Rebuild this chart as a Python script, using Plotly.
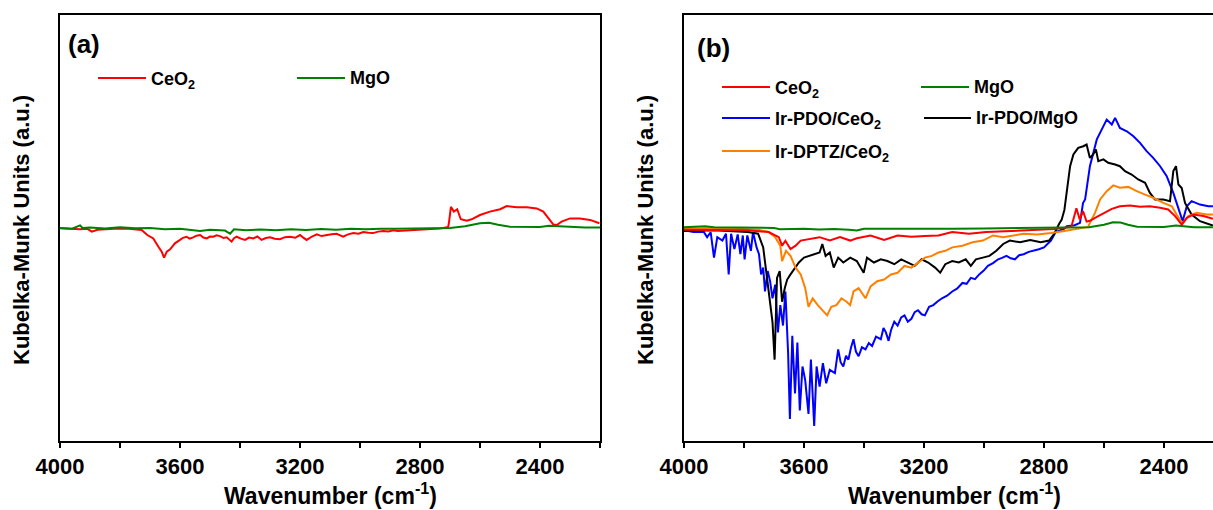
import plotly.graph_objects as go

W, H = 1213, 510

# ---------------- Panel (a) data ----------------
a_ceo2_wn = [4000, 3970, 3933, 3910, 3894, 3875, 3856, 3820, 3778, 3750, 3728, 3709, 3689, 3672, 3661, 3653,
             3644, 3633, 3617, 3600, 3590, 3578, 3568, 3556, 3545, 3533, 3522, 3511, 3500, 3489, 3478, 3467,
             3455, 3444, 3436, 3428, 3420, 3411, 3397, 3383, 3370, 3356, 3342, 3328, 3314, 3300, 3284, 3267,
             3250, 3233, 3216, 3200, 3189, 3178, 3160, 3144, 3128, 3111, 3095, 3078, 3067, 3056, 3040, 3022,
             3005, 2989, 2972, 2956, 2940, 2922, 2905, 2889, 2875, 2860, 2845, 2833, 2815, 2800, 2790, 2778,
             2765, 2750, 2735, 2722, 2706, 2703, 2697, 2687, 2676, 2664, 2644, 2628, 2600, 2567, 2533, 2511,
             2478, 2444, 2411, 2389, 2372, 2356, 2344, 2328, 2300, 2267, 2233, 2202]
a_ceo2_km = [-0.001, -0.004, -0.006, -0.003, -0.017, -0.008, -0.006, -0.003, -0.002, -0.004, -0.009, -0.033, -0.049, -0.088, -0.111, -0.139,
             -0.111, -0.100, -0.072, -0.056, -0.046, -0.041, -0.050, -0.044, -0.036, -0.033, -0.045, -0.049, -0.040, -0.041, -0.034, -0.038,
             -0.047, -0.044, -0.052, -0.064, -0.048, -0.041, -0.050, -0.056, -0.045, -0.049, -0.040, -0.056, -0.047, -0.044, -0.050, -0.053,
             -0.043, -0.041, -0.046, -0.033, -0.045, -0.056, -0.040, -0.030, -0.038, -0.033, -0.029, -0.027, -0.035, -0.041, -0.030, -0.024,
             -0.027, -0.019, -0.022, -0.024, -0.017, -0.014, -0.016, -0.011, -0.014, -0.013, -0.009, -0.008, -0.010, -0.007, -0.005, -0.005,
             -0.004, -0.003, -0.002, 0.000, 0.005, 0.030, 0.099, 0.077, 0.088, 0.041, 0.034, 0.041, 0.061, 0.077, 0.088, 0.103,
             0.097, 0.097, 0.092, 0.077, 0.045, 0.017, 0.014, 0.030, 0.045, 0.045, 0.038, 0.022]

a_mgo_wn = [4000, 3960, 3933, 3925, 3900, 3850, 3800, 3750, 3700, 3650, 3600, 3560, 3533, 3500, 3450, 3433,
            3420, 3380, 3330, 3280, 3230, 3180, 3130, 3080, 3030, 2980, 2930, 2880, 2830, 2780, 2730, 2700,
            2650, 2600, 2570, 2540, 2500, 2450, 2400, 2370, 2340, 2300, 2250, 2200]
a_mgo_km = [0.000, -0.003, 0.012, 0.000, 0.002, -0.002, 0.003, -0.001, 0.000, -0.006, -0.004, -0.010, -0.014, -0.008, -0.012, -0.027,
            -0.006, -0.010, -0.007, -0.011, -0.006, -0.009, -0.005, -0.008, -0.004, -0.006, -0.003, -0.004, -0.002, 0.000, 0.001, 0.000,
            0.008, 0.022, 0.025, 0.015, 0.006, 0.004, 0.005, 0.010, 0.008, 0.003, 0.002, 0.002]

# ---------------- Panel (b) data ----------------
b_ceo2_wn = [4000, 3900, 3787, 3718, 3684, 3673, 3662, 3645, 3628, 3611, 3582, 3548, 3514, 3480, 3446, 3424,
             3378, 3333, 3288, 3242, 3197, 3152, 3106, 3050, 2993, 2936, 2880, 2823, 2766, 2709, 2692, 2681,
             2670, 2658, 2645, 2630, 2602, 2574, 2547, 2513, 2480, 2447, 2413, 2386, 2363, 2341, 2324, 2302,
             2269, 2237]
b_ceo2_km = [-0.008, -0.009, -0.011, -0.019, -0.043, -0.083, -0.060, -0.099, -0.083, -0.059, -0.051, -0.043, -0.059, -0.043, -0.059, -0.048,
             -0.035, -0.056, -0.035, -0.041, -0.038, -0.035, -0.019, -0.027, -0.019, -0.016, -0.011, -0.008, -0.005, 0.005, 0.093, 0.040,
             0.079, 0.030, 0.035, 0.048, 0.071, 0.090, 0.102, 0.106, 0.100, 0.102, 0.095, 0.087, 0.056, 0.016, 0.048, 0.063,
             0.056, 0.043]

b_mgo_wn = [4000, 3930, 3900, 3800, 3700, 3680, 3650, 3600, 3550, 3500, 3450, 3424, 3400, 3300, 3200, 3100,
            3000, 2900, 2800, 2700, 2650, 2600, 2570, 2545, 2520, 2490, 2450, 2400, 2360, 2340, 2300, 2237]
b_mgo_km = [0.003, 0.008, 0.004, 0.002, 0.000, -0.006, -0.004, -0.003, -0.007, -0.005, -0.008, -0.012, -0.004, -0.005, -0.003, -0.004,
            -0.002, 0.000, 0.001, 0.002, 0.004, 0.015, 0.027, 0.026, 0.015, 0.006, 0.004, 0.005, 0.012, 0.010, 0.004, 0.003]

b_irpdo_ceo2_wn = [4000, 3968, 3934, 3923, 3911, 3900, 3889, 3872, 3860, 3851, 3843, 3832, 3821, 3812, 3804, 3798,
                   3789, 3777, 3770, 3758, 3750, 3743, 3736, 3730, 3721, 3713, 3705, 3696, 3687, 3679, 3670, 3662,
                   3653, 3647, 3639, 3630, 3622, 3614, 3605, 3596, 3585, 3577, 3566, 3558, 3548, 3537, 3526, 3514,
                   3497, 3490, 3486, 3478, 3469, 3460, 3452, 3443, 3435, 3427, 3418, 3407, 3395, 3384, 3373, 3360,
                   3344, 3335, 3327, 3318, 3310, 3299, 3288, 3276, 3265, 3254, 3242, 3231, 3220, 3208, 3197, 3183,
                   3169, 3155, 3140, 3123, 3106, 3090, 3072, 3058, 3044, 3030, 3016, 3001, 2987, 2970, 2953, 2940,
                   2925, 2911, 2897, 2883, 2868, 2851, 2834, 2817, 2800, 2788, 2777, 2761, 2732,
                   2724, 2698, 2680, 2670, 2663, 2647, 2624, 2602, 2591, 2574, 2563, 2547, 2524, 2502, 2480, 2458,
                   2436, 2413, 2391, 2369, 2352, 2338, 2324, 2308, 2280, 2252, 2237]
b_irpdo_ceo2_km = [-0.011, -0.019, -0.019, -0.043, -0.020, -0.139, -0.043, -0.059, -0.027, -0.218, -0.027, -0.099, -0.030, -0.123, -0.035, -0.147,
                   -0.035, -0.107, -0.019, -0.091, -0.123, -0.218, -0.186, -0.298, -0.202, -0.250, -0.330, -0.266, -0.490, -0.362, -0.458, -0.298,
                   -0.586, -0.897, -0.506, -0.777, -0.538, -0.857, -0.650, -0.714, -0.873, -0.618, -0.929, -0.650, -0.745, -0.634, -0.729, -0.666,
                   -0.681, -0.600, -0.570, -0.630, -0.650, -0.600, -0.618, -0.560, -0.522, -0.580, -0.602, -0.560, -0.570, -0.540, -0.554, -0.510,
                   -0.522, -0.470, -0.490, -0.530, -0.480, -0.440, -0.458, -0.420, -0.410, -0.440, -0.426, -0.395, -0.386, -0.405, -0.410, -0.370,
                   -0.362, -0.345, -0.330, -0.318, -0.298, -0.285, -0.258, -0.262, -0.234, -0.240, -0.218, -0.200, -0.178, -0.165, -0.147, -0.140,
                   -0.131, -0.142, -0.147, -0.128, -0.123, -0.112, -0.107, -0.100, -0.091, -0.075, -0.059, -0.019, -0.003,
                   0.009, 0.013, 0.024, 0.117, 0.134, 0.290, 0.416, 0.478, 0.509, 0.486, 0.517, 0.470, 0.454, 0.431, 0.400, 0.361,
                   0.329, 0.290, 0.243, 0.165, 0.087, 0.032, 0.102, 0.126, 0.110, 0.102, 0.102]

b_irpdo_mgo_wn = [4000, 3900, 3787, 3753, 3736, 3724, 3713, 3705, 3698, 3690, 3681, 3673, 3664, 3656, 3645, 3628,
                  3617, 3600, 3582, 3565, 3548, 3539, 3528, 3514, 3501, 3486, 3469, 3446, 3424, 3401, 3390, 3367,
                  3344, 3322, 3299, 3276, 3254, 3231, 3208, 3186, 3163, 3146, 3129, 3106, 3084, 3061, 3044, 3027,
                  3004, 2982, 2959, 2936, 2914, 2880, 2846, 2811, 2783, 2766, 2749, 2741, 2732, 2724, 2713, 2702,
                  2686, 2669, 2658, 2647, 2636, 2627, 2619, 2602, 2586, 2563, 2547, 2530, 2508, 2486, 2463, 2447,
                  2430, 2402, 2380, 2369, 2360, 2352, 2341, 2330, 2308, 2280, 2237]
b_irpdo_mgo_km = [-0.014, -0.011, -0.019, -0.027, -0.091, -0.234, -0.346, -0.442, -0.618, -0.234, -0.202, -0.346, -0.282, -0.242, -0.218, -0.186,
                  -0.162, -0.139, -0.131, -0.123, -0.115, -0.075, -0.131, -0.115, -0.186, -0.139, -0.162, -0.139, -0.155, -0.210, -0.139, -0.162,
                  -0.147, -0.155, -0.170, -0.147, -0.162, -0.178, -0.147, -0.162, -0.186, -0.210, -0.170, -0.155, -0.162, -0.147, -0.178, -0.147,
                  -0.139, -0.131, -0.107, -0.075, -0.059, -0.067, -0.056, -0.067, -0.059, -0.027, 0.021, 0.040, 0.085, 0.165, 0.290, 0.345,
                  0.376, 0.384, 0.392, 0.329, 0.345, 0.369, 0.314, 0.322, 0.306, 0.298, 0.290, 0.267, 0.251, 0.228, 0.212, 0.165,
                  0.134, 0.134, 0.126, 0.267, 0.290, 0.204, 0.188, 0.118, 0.063, 0.032, 0.012]

b_irdptz_ceo2_wn = [4000, 3877, 3753, 3718, 3696, 3679, 3673, 3660, 3645, 3628, 3611, 3596, 3585, 3571, 3554, 3537,
                    3523, 3509, 3492, 3475, 3458, 3446, 3435, 3418, 3395, 3378, 3356, 3333, 3310, 3288, 3265, 3242,
                    3220, 3197, 3174, 3152, 3129, 3106, 3072, 3038, 3004, 2970, 2936, 2902, 2868, 2823, 2777, 2732,
                    2687, 2653, 2647, 2630, 2613, 2591, 2569, 2547, 2519, 2491, 2463, 2436, 2402, 2374, 2358, 2338,
                    2319, 2291, 2258, 2237]
b_irdptz_ceo2_km = [-0.003, 0.000, -0.008, -0.019, -0.043, -0.083, -0.155, -0.107, -0.131, -0.186, -0.218, -0.282, -0.370, -0.330, -0.362, -0.386,
                    -0.410, -0.370, -0.362, -0.330, -0.346, -0.362, -0.298, -0.282, -0.330, -0.274, -0.250, -0.242, -0.218, -0.210, -0.178, -0.186,
                    -0.162, -0.139, -0.131, -0.115, -0.107, -0.091, -0.083, -0.067, -0.059, -0.035, -0.043, -0.035, -0.027, -0.030, -0.024, -0.014,
                    -0.003, 0.005, 0.024, 0.071, 0.134, 0.173, 0.200, 0.189, 0.193, 0.173, 0.157, 0.142, 0.118, 0.102, 0.063, 0.021,
                    0.056, 0.071, 0.063, 0.063]

major_ticks = [4000, 3600, 3200, 2800, 2400]
major_text = ["4000", "3600", "3200", "2800", "2400"]
minor_ticks = [3800, 3400, 3000, 2600, 2200]

RED, GREEN, BLUE, BLACK, ORANGE = "#FF0000", "#008000", "#0000FF", "#000000", "#FF8000"
FONT = "Liberation Sans, Arial, sans-serif"

fig = go.Figure()

def add(x, y, color, xa, ya):
    fig.add_trace(go.Scatter(x=x, y=y, mode="lines", line=dict(color=color, width=2),
                             xaxis=xa, yaxis=ya, showlegend=False, hoverinfo="skip"))

add(a_ceo2_wn, a_ceo2_km, RED, "x", "y")
add(a_mgo_wn, a_mgo_km, GREEN, "x", "y")
add(b_irpdo_ceo2_wn, b_irpdo_ceo2_km, BLUE, "x2", "y2")
add(b_irpdo_mgo_wn, b_irpdo_mgo_km, BLACK, "x2", "y2")
add(b_irdptz_ceo2_wn, b_irdptz_ceo2_km, ORANGE, "x2", "y2")
add(b_ceo2_wn, b_ceo2_km, RED, "x2", "y2")
add(b_mgo_wn, b_mgo_km, GREEN, "x2", "y2")

def px(xp):
    return xp / W

def py(yp):
    return 1 - yp / H

y_dom = [py(441), py(15)]
xaxis_common = dict(tickmode="array", tickvals=major_ticks, ticktext=major_text, ticks="outside", ticklen=5,
                    tickwidth=1.5, tickcolor="black", showline=True, linecolor="black", linewidth=1.8,
                    showgrid=False, zeroline=False, automargin=False,
                    minor=dict(tickmode="array", tickvals=minor_ticks, ticks="outside", ticklen=5,
                               tickwidth=1.5, tickcolor="black", showgrid=False),
                    tickfont=dict(family=FONT, size=22, color="black", weight="bold"))
yaxis_common = dict(range=[-1, 1], showticklabels=False, ticks="", showline=True, linecolor="black",
                    linewidth=1.8, showgrid=False, zeroline=False, automargin=False, domain=y_dom)
fig.update_layout(
    width=W, height=H, margin=dict(l=0, r=0, t=0, b=0, pad=0, autoexpand=False),
    paper_bgcolor="white", plot_bgcolor="white", showlegend=False,
    xaxis=dict(domain=[px(60), px(600)], range=[4000, 2200], mirror=True, anchor="y", **xaxis_common),
    yaxis=dict(mirror=True, anchor="x", **yaxis_common),
    xaxis2=dict(domain=[px(684), 1], range=[4000, 2236.7], mirror=True, anchor="y2", **xaxis_common),
    yaxis2=dict(mirror=False, anchor="x2", **yaxis_common),
)

ann = []
def text(x, y, s, size, xanchor="left", angle=0):
    ann.append(dict(x=px(x), y=py(y), xref="paper", yref="paper", text=s, showarrow=False,
                    xanchor=xanchor, yanchor="middle", textangle=angle,
                    font=dict(family=FONT, size=size, color="black", weight="bold")))

shapes = []
def legline(x0, x1, y, color):
    shapes.append(dict(type="line", xref="paper", yref="paper", x0=px(x0), x1=px(x1), y0=py(y), y1=py(y),
                       line=dict(color=color, width=1.8)))

# panel labels
text(66, 44, "(a)", 26)
text(695, 48, "(b)", 26)

# legends panel (a)
legline(98, 146, 78, RED)
text(149, 80, "CeO<sub>2</sub>", 18)
legline(297, 345, 78, GREEN)
text(348, 78, "MgO", 18)

# legends panel (b)
legline(722, 770, 87, RED)
text(773, 89, "CeO<sub>2</sub>", 18)
legline(921, 969, 87, GREEN)
text(972, 87, "MgO", 18)
legline(722, 770, 118, BLUE)
text(773, 120, "Ir-PDO/CeO<sub>2</sub>", 18)
legline(924, 971, 118, BLACK)
text(974, 118, "Ir-PDO/MgO", 18)
legline(722, 770, 151, ORANGE)
text(773, 153, "Ir-DPTZ/CeO<sub>2</sub>", 18)

# axis titles
text(330, 494, "Wavenumber (cm<sup>-1</sup>)", 23, xanchor="center")
text(954, 494, "Wavenumber (cm<sup>-1</sup>)", 23, xanchor="center")
text(22, 230, "Kubelka-Munk Units (a.u.)", 22, xanchor="center", angle=-90)
text(646, 230, "Kubelka-Munk Units (a.u.)", 22, xanchor="center", angle=-90)

fig.update_layout(annotations=ann, shapes=shapes)
fig.write_html("out.html", config={"displayModeBar": False},
               post_script="document.body.style.margin='0';document.body.style.overflow='hidden';")
